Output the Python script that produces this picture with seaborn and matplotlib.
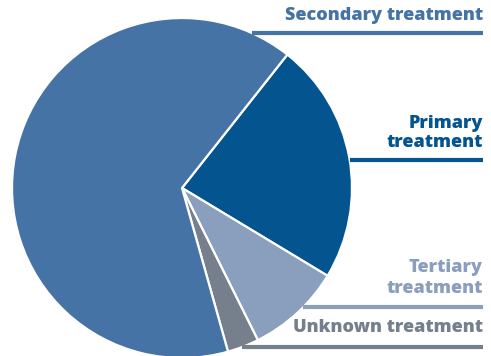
import matplotlib
matplotlib.use("Agg")
import matplotlib.pyplot as plt
import seaborn as sns
import numpy as np

# Data (share of treatment type, %)
labels = ['Primary\ntreatment', 'Tertiary\ntreatment', 'Unknown treatment', 'Secondary treatment']
shares = [23, 9, 3, 65]
colors = ['#03548f', '#8a9ebd', '#767f8c', '#4673a5']

sns.set_theme(style='white')
plt.rcParams['font.family'] = ['Open Sans', 'DejaVu Sans']

W, H = 491, 356
fig = plt.figure(figsize=(W / 100, H / 100), dpi=100)
ax = fig.add_axes([0, 0, 1, 1])

# pie in pixel-like coordinates (y measured from the bottom)
cx, cy, r = 182, H - 188, 170
ax.pie(shares, colors=colors, startangle=51.7, counterclock=False,
       center=(cx, cy), radius=r,
       wedgeprops=dict(edgecolor='white', linewidth=1.6))
ax.set_xlim(0, W)
ax.set_ylim(0, H)
ax.set_aspect('equal')
ax.axis('off')

# labels on the right with underline bars
x_right = 483
label_y = [133, 278, 328, 16]   # text centre (from top)
bar_y = [160, 307, 347, 33]     # underline (from top)
spacing = [1.2, 1.3, 1.2, 1.2]
for lab, col, ty, by, ls in zip(labels, colors, label_y, bar_y, spacing):
    dy = by - 188
    x0 = cx + np.sqrt(max(r ** 2 - dy ** 2, 0))
    ax.plot([x0, x_right], [H - by, H - by], color=col, lw=3.0,
            solid_capstyle='butt')
    ax.text(x_right, H - ty, lab, color=col, ha='right', va='center',
            fontsize=13, fontweight='heavy', linespacing=ls)

fig.savefig('out.png', dpi=100)
